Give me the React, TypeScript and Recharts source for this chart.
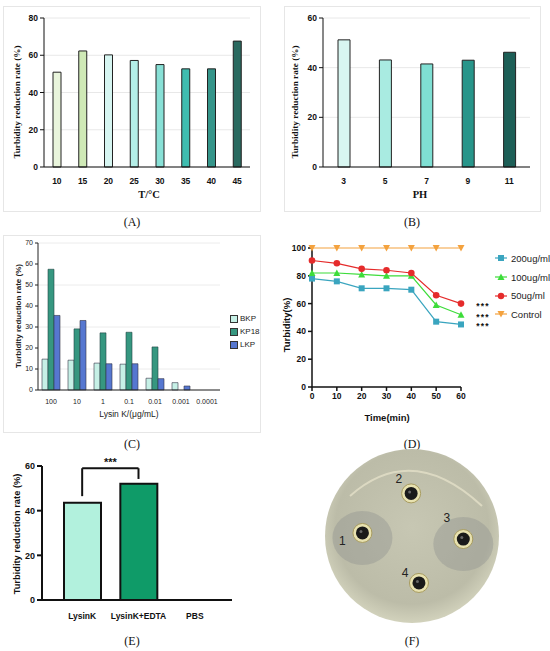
import React from 'react';
import {
  BarChart, Bar, XAxis, YAxis, CartesianGrid, Cell, LineChart, Line,
  LabelList, ReferenceLine, ScatterChart, Scatter, ReferenceDot,
} from 'recharts';

// ---------- Panel A: temperature ----------
const tempCats = ['10', '15', '20', '25', '30', '35', '40', '45'];
const tempValues = [50.9, 62.3, 60.2, 57.2, 55, 52.7, 52.7, 67.6];
const tempColors = ['#e9f5dc', '#cfe9b6', '#d6f5f1', '#b4eee7', '#88e0d6', '#3fbdb0', '#35958a', '#2a6a60'];

// ---------- Panel B: pH ----------
const phCats = ['3', '5', '7', '9', '11'];
const phValues = [51.2, 43.1, 41.5, 43, 46.2];
const phColors = ['#d8f6f1', '#a9ebe1', '#7fdfd3', '#28958a', '#1d5f57'];

// ---------- Panel C: concentration ----------
const concCats = ['100', '10', '1', '0.1', '0.01', '0.001', '0.0001'];
const bkpValues = [14.7, 14.2, 12.8, 12.3, 5.6, 3.5, 0];
const kp18Values = [57.5, 29.1, 27.2, 27.5, 20.5, 0, 0];
const lkpValues = [35.5, 33.1, 12.5, 12.5, 5.4, 1.9, 0];

// ---------- Panel D: time course ----------
const timePoints = [0, 10, 20, 30, 40, 50, 60];
const s200 = [78, 76, 71, 71, 70, 47, 45];
const s100 = [82, 82, 81, 80, 80, 59, 52];
const s50 = [91, 89, 85, 84, 82, 66, 60];
const sControl = [100, 100, 100, 100, 100, 100, 100];

// ---------- Panel E: EDTA ----------
const edtaCats = ['LysinK', 'LysinK+EDTA', 'PBS'];
const edtaValues = [43.5, 52.1, 0];
const edtaColors = ['#b2f1dd', '#0f9b68', '#ffffff'];

// ---------- Panel F: plate wells (plate units, radius 100) ----------
const wellX = [-57, -1, 59, 8];
const wellY = [3.5, 49, -3.5, -54];
const wellLabels = ['1', '2', '3', '4'];
const wellLabelX = [-80, -15, 40, -8];
const wellLabelY = [-6, 66, 21, -43];

const tempData = tempCats.map((c, i) => ({ cat: c, v: tempValues[i] }));
const phData = phCats.map((c, i) => ({ cat: c, v: phValues[i] }));
const concData = concCats.map((c, i) => ({ cat: c, BKP: bkpValues[i], KP18: kp18Values[i], LKP: lkpValues[i] }));
const timeData = timePoints.map((t, i) => ({ t, a: s200[i], b: s100[i], c: s50[i], d: sControl[i] }));
const edtaData = edtaCats.map((c, i) => ({ cat: c, v: edtaValues[i] }));
const wellData = wellX.map((x, i) => ({ x, y: wellY[i], zone: i === 0 || i === 2 }));
const wellLabelData = wellLabelX.map((x, i) => ({ x, y: wellLabelY[i], label: wellLabels[i] }));

const SERIF = '"Liberation Serif", "DejaVu Serif", serif';
const SANS = '"Liberation Sans", Arial, sans-serif';
const NARROW = '"Liberation Sans Narrow", "Liberation Sans", Arial, sans-serif';

const vText = (text: string, x: number, y: number, style: React.CSSProperties) => () => (
  <text x={x} y={y} transform={`rotate(-90, ${x}, ${y})`} textAnchor="middle" dominantBaseline="central" style={style}>
    {text}
  </text>
);
const hText = (text: string, x: number, y: number, style: React.CSSProperties) => () => (
  <text x={x} y={y} textAnchor="middle" dominantBaseline="central" style={style}>
    {text}
  </text>
);

const PanelLabel = ({ text, x, y }: { text: string; x: number; y: number }) => (
  <div style={{ position: 'absolute', left: x - 20, top: y - 8, width: 40, textAlign: 'center', fontFamily: SERIF, fontSize: 12, lineHeight: '16px', color: '#111' }}>
    {text}
  </div>
);

const frame: React.CSSProperties = { position: 'absolute', border: '1px solid #e6e6e6', boxSizing: 'border-box', background: '#fff' };

const Square = (color: string) => (p: any) =>
  p.cx == null ? null : <rect key={p.index} x={p.cx - 3} y={p.cy - 3} width={6} height={6} fill={color} />;
const TriUp = (color: string) => (p: any) =>
  p.cx == null ? null : <polygon key={p.index} points={`${p.cx},${p.cy - 3.5} ${p.cx - 3.5},${p.cy + 3} ${p.cx + 3.5},${p.cy + 3}`} fill={color} />;
const TriDown = (color: string) => (p: any) =>
  p.cx == null ? null : <polygon key={p.index} points={`${p.cx - 3.5},${p.cy - 3} ${p.cx + 3.5},${p.cy - 3} ${p.cx},${p.cy + 3.5}`} fill={color} />;
const Circ = (color: string) => (p: any) =>
  p.cx == null ? null : <circle key={p.index} cx={p.cx} cy={p.cy} r={3.3} fill={color} />;

const stars = (props: any) => {
  const { x, y, index } = props;
  if (index !== timePoints.length - 1) return null;
  return (
    <text x={x + 22} y={y + 5} textAnchor="middle" style={{ fontFamily: SANS, fontWeight: 700, fontSize: 8.5, fill: '#111', letterSpacing: 1.2 }}>
      ***
    </text>
  );
};

const dLegendItems = [
  { name: '200ug/ml', color: '#3aa5bf', shape: 'sq' },
  { name: '100ug/ml', color: '#3ddc3a', shape: 'tu' },
  { name: '50ug/ml', color: '#e52b2b', shape: 'c' },
  { name: 'Control', color: '#f4a23e', shape: 'td' },
];

const DLegend = ({ left, top }: { left: number; top: number }) => (
  <div style={{ position: 'absolute', left, top, fontFamily: NARROW, fontSize: 9.5, color: '#222' }}>
    {dLegendItems.map((it) => (
      <div key={it.name} style={{ display: 'flex', alignItems: 'center', height: 18.7 }}>
        <svg width={14} height={10} style={{ marginRight: 3 }}>
          <line x1={1} y1={5} x2={13} y2={5} stroke={it.color} strokeWidth={1.2} />
          {it.shape === 'sq' && <rect x={4} y={2} width={6} height={6} fill={it.color} />}
          {it.shape === 'tu' && <polygon points="7,1.5 3.5,8 10.5,8" fill={it.color} />}
          {it.shape === 'c' && <circle cx={7} cy={5} r={3.2} fill={it.color} />}
          {it.shape === 'td' && <polygon points="3.5,2 10.5,2 7,8.5" fill={it.color} />}
        </svg>
        <span>{it.name}</span>
      </div>
    ))}
  </div>
);

const cLegendItems = [
  { name: 'BKP', color: '#c6f0e6' },
  { name: 'KP18', color: '#369780' },
  { name: 'LKP', color: '#5677d0' },
];
const CLegend = ({ left, top }: { left: number; top: number }) => (
  <div style={{ position: 'absolute', left, top, fontFamily: SANS, fontSize: 8, color: '#222' }}>
    {cLegendItems.map((it) => (
      <div key={it.name} style={{ display: 'flex', alignItems: 'center', height: 13 }}>
        <div style={{ width: 6, height: 6, background: it.color, border: '1px solid #333', marginRight: 2 }} />
        <span>{it.name}</span>
      </div>
    ))}
  </div>
);

const PlateDot = (p: any) => {
  const { cx, cy } = p;
  return (
    <g>
      <defs>
        <radialGradient id="plateGrad" cx="50%" cy="45%" r="55%">
          <stop offset="0%" stopColor="#c7c7b3" />
          <stop offset="80%" stopColor="#bcbca8" />
          <stop offset="100%" stopColor="#d2d2bc" />
        </radialGradient>
      </defs>
      <circle cx={cx} cy={cy} r={87} fill="url(#plateGrad)" />
      <path d={`M ${cx - 62} ${cy - 40} Q ${cx} ${cy - 95} ${cx + 70} ${cy - 30}`} stroke="#e4e0c8" strokeWidth={2} fill="none" opacity={0.8} />
    </g>
  );
};

const Well = (p: any) => {
  const { cx, cy } = p;
  if (cx == null) return null;
  return (
    <g>
      {p.payload.zone && <ellipse cx={cx} cy={cy + 5} rx={30} ry={27} fill="#8e928f" opacity={0.4} />}
      <circle cx={cx} cy={cy} r={9.5} fill="#e8e2b0" stroke="#a89c60" strokeWidth={1} />
      <circle cx={cx} cy={cy} r={6.5} fill="#1a1a1a" />
      <circle cx={cx - 1.5} cy={cy - 1.5} r={1.5} fill="#666" />
    </g>
  );
};

const WellLabel = (p: any) => {
  const { cx, cy } = p;
  if (cx == null) return null;
  return (
    <text x={cx} y={cy} textAnchor="middle" dominantBaseline="central" style={{ fontFamily: SANS, fontSize: 12, fill: '#222' }}>
      {p.payload.label}
    </text>
  );
};

const tickBold = (size: number, family = SANS) => ({ fontFamily: family, fontSize: size, fontWeight: 700, fill: '#111' });

export default function App() {
  return (
    <div style={{ position: 'absolute', left: 0, top: 0, width: 550, height: 651, background: '#fff', overflow: 'hidden' }}>
      {/* Panel A */}
      <div style={{ ...frame, left: 3, top: 6, width: 258, height: 206 }}>
        <BarChart width={256} height={204} data={tempData} margin={{ top: 11, right: 10, bottom: 0, left: 0 }} barSize={8}>
          <CartesianGrid vertical={false} stroke="#e8e8e8" />
          <XAxis dataKey="cat" height={44} tickLine={false} axisLine={{ stroke: '#111' }} tick={tickBold(8.5)} tickMargin={5}
            label={hText('T/°C', 145, 187, { fontFamily: SERIF, fontSize: 10.5, fontWeight: 600, fill: '#111' })} />
          <YAxis width={40} domain={[0, 80]} ticks={[0, 20, 40, 60, 80]} tickSize={4} tickLine={{ stroke: '#111' }} axisLine={{ stroke: '#111' }}
            tick={tickBold(8.5)} label={vText('Turbidity reduction rate (%)', 13, 95, { fontFamily: SERIF, fontSize: 9.2, fontWeight: 700, fill: '#111' })} />
          <Bar dataKey="v" stroke="#222" strokeWidth={1} isAnimationActive={false}>
            {tempData.map((d, i) => <Cell key={d.cat} fill={tempColors[i]} />)}
          </Bar>
        </BarChart>
      </div>
      <PanelLabel text="(A)" x={132} y={222} />

      {/* Panel B */}
      <div style={{ ...frame, left: 284, top: 6, width: 257, height: 206 }}>
        <BarChart width={255} height={204} data={phData} margin={{ top: 11, right: 10, bottom: 0, left: 0 }} barSize={12}>
          <CartesianGrid vertical={false} stroke="#e8e8e8" />
          <XAxis dataKey="cat" height={44} tickLine={false} axisLine={{ stroke: '#111' }} tick={tickBold(8.5)} tickMargin={5}
            label={hText('PH', 135, 187, { fontFamily: SERIF, fontSize: 10.5, fontWeight: 700, fill: '#111' })} />
          <YAxis width={38} domain={[0, 60]} ticks={[0, 20, 40, 60]} tickSize={4} tickLine={{ stroke: '#111' }} axisLine={{ stroke: '#111' }}
            tick={tickBold(8.5)} label={vText('Turbidity reduction rate (%)', 10, 95, { fontFamily: SERIF, fontSize: 9.2, fontWeight: 700, fill: '#111' })} />
          <Bar dataKey="v" stroke="#222" strokeWidth={1} isAnimationActive={false}>
            {phData.map((d, i) => <Cell key={d.cat} fill={phColors[i]} />)}
          </Bar>
        </BarChart>
      </div>
      <PanelLabel text="(B)" x={412} y={222} />

      {/* Panel C */}
      <div style={{ ...frame, left: 3, top: 235, width: 258, height: 198 }}>
        <BarChart width={256} height={196} data={concData} margin={{ top: 7, right: 40, bottom: 0, left: 0 }} barSize={6} barGap={0} barCategoryGap="16%">
          <CartesianGrid vertical={false} stroke="#ececec" />
          <XAxis dataKey="cat" height={42} tickLine={false} axisLine={{ stroke: '#222' }} tick={{ fontFamily: SANS, fontSize: 7, fill: '#222' }} tickMargin={3} interval={0}
            label={hText('Lysin K/(μg/mL)', 125, 178, { fontFamily: SANS, fontSize: 8.5, fill: '#222' })} />
          <YAxis width={34} domain={[0, 70]} ticks={[0, 10, 20, 30, 40, 50, 60, 70]} tickSize={3} tickLine={{ stroke: '#222' }} axisLine={{ stroke: '#222' }}
            tick={{ fontFamily: SANS, fontSize: 7, fill: '#222' }}
            label={vText('Turbidity reduction rate (%)', 14, 80, { fontFamily: SANS, fontSize: 8, fontWeight: 700, fill: '#222' })} />
          <Bar dataKey="BKP" fill="#c6f0e6" stroke="#334" strokeWidth={0.6} isAnimationActive={false} />
          <Bar dataKey="KP18" fill="#369780" stroke="#244" strokeWidth={0.6} isAnimationActive={false} />
          <Bar dataKey="LKP" fill="#5677d0" stroke="#334" strokeWidth={0.6} isAnimationActive={false} />
        </BarChart>
        <CLegend left={226} top={76} />
      </div>
      <PanelLabel text="(C)" x={132} y={444} />

      {/* Panel D */}
      <div style={{ position: 'absolute', left: 275, top: 235, width: 275, height: 195 }}>
        <LineChart width={275} height={195} data={timeData} margin={{ top: 13, right: 89, bottom: 0, left: 0 }}>
          <XAxis dataKey="t" type="number" height={43} domain={[0, 60]} ticks={timePoints} tickSize={4} tickLine={{ stroke: '#111', strokeWidth: 1.5 }}
            axisLine={{ stroke: '#111', strokeWidth: 1.5 }} tick={tickBold(8.5, NARROW)} tickMargin={2}
            label={hText('Time(min)', 112, 182, { fontFamily: NARROW, fontSize: 9.5, fontWeight: 700, fill: '#111' })} />
          <YAxis width={37} domain={[0, 100]} ticks={[0, 20, 40, 60, 80, 100]} tickSize={4} tickLine={{ stroke: '#111', strokeWidth: 1.5 }}
            axisLine={{ stroke: '#111', strokeWidth: 1.5 }} tick={tickBold(8.5, NARROW)}
            label={vText('Turbidity(%)', 11, 90, { fontFamily: NARROW, fontSize: 9.5, fontWeight: 700, fill: '#111' })} />
          <Line dataKey="d" name="Control" stroke="#f4a23e" strokeWidth={1.2} dot={TriDown('#f4a23e')} isAnimationActive={false} />
          <Line dataKey="a" name="200ug/ml" stroke="#3aa5bf" strokeWidth={1.2} dot={Square('#3aa5bf')} isAnimationActive={false}>
            <LabelList dataKey="a" content={stars} />
          </Line>
          <Line dataKey="b" name="100ug/ml" stroke="#3ddc3a" strokeWidth={1.2} dot={TriUp('#3ddc3a')} isAnimationActive={false}>
            <LabelList dataKey="b" content={stars} />
          </Line>
          <Line dataKey="c" name="50ug/ml" stroke="#e52b2b" strokeWidth={1.2} dot={Circ('#e52b2b')} isAnimationActive={false}>
            <LabelList dataKey="c" content={stars} />
          </Line>
        </LineChart>
        <DLegend left={219} top={14} />
      </div>
      <PanelLabel text="(D)" x={412} y={444} />

      {/* Panel E */}
      <div style={{ position: 'absolute', left: 0, top: 455 }}>
        <BarChart width={250} height={175} data={edtaData} margin={{ top: 11, right: 18, bottom: 0, left: 0 }} barSize={37}>
          <XAxis dataKey="cat" height={30} tickLine={false} axisLine={{ stroke: '#111', strokeWidth: 2 }} tick={tickBold(8.5)} tickMargin={7}
            padding={{ left: 12, right: 9 }} interval={0} />
          <YAxis width={42} domain={[0, 60]} ticks={[0, 20, 40, 60]} tickSize={5} tickLine={{ stroke: '#111', strokeWidth: 2 }}
            axisLine={{ stroke: '#111', strokeWidth: 2 }} tick={tickBold(9)}
            label={vText('Turbidity reduction rate (%)', 17, 79, { fontFamily: SANS, fontSize: 9.3, fontWeight: 700, fill: '#111' })} />
          <Bar dataKey="v" stroke="#111" strokeWidth={2} isAnimationActive={false}>
            {edtaData.map((d, i) => <Cell key={d.cat} fill={edtaColors[i]} />)}
          </Bar>
          <ReferenceLine segment={[{ x: 'LysinK', y: 59 }, { x: 'LysinK+EDTA', y: 59 }]} stroke="#111" strokeWidth={2}
            label={{ value: '***', position: 'top', offset: 2, style: { fontFamily: SANS, fontSize: 11, fontWeight: 700, fill: '#111' } }} />
          <ReferenceLine segment={[{ x: 'LysinK', y: 59 }, { x: 'LysinK', y: 46.5 }]} stroke="#111" strokeWidth={2} />
          <ReferenceLine segment={[{ x: 'LysinK+EDTA', y: 59 }, { x: 'LysinK+EDTA', y: 54.2 }]} stroke="#111" strokeWidth={2} />
        </BarChart>
      </div>
      <PanelLabel text="(E)" x={132} y={641} />

      {/* Panel F */}
      <div style={{ position: 'absolute', left: 312, top: 436 }}>
        <ScatterChart width={200} height={200} margin={{ top: 0, right: 0, bottom: 0, left: 0 }}>
          <XAxis type="number" dataKey="x" domain={[-115, 115]} hide />
          <YAxis type="number" dataKey="y" domain={[-115, 115]} hide width={0} />
          <ReferenceDot x={0} y={0} r={87} shape={PlateDot} />
          <Scatter data={wellData} shape={Well} isAnimationActive={false} />
          <Scatter data={wellLabelData} shape={WellLabel} isAnimationActive={false} />
        </ScatterChart>
      </div>
      <PanelLabel text="(F)" x={412} y={641} />
    </div>
  );
}
